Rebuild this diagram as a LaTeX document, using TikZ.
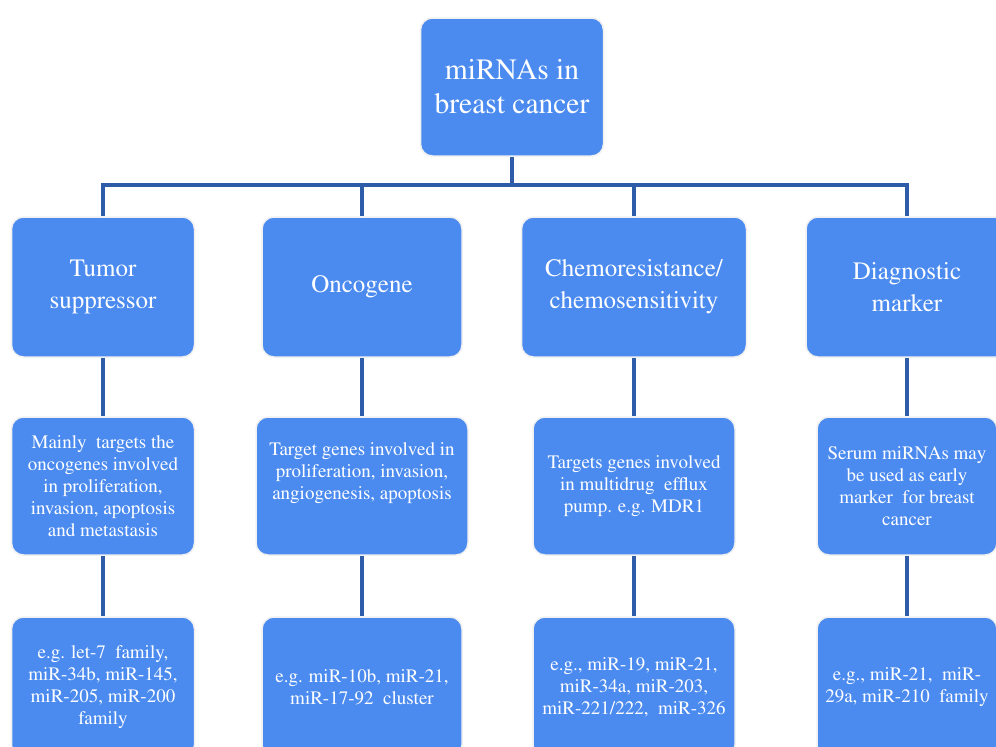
\documentclass[tikz,border=0pt]{standalone}
\usepackage[T1]{fontenc}
\usepackage{mathptmx}
\usepackage{xcolor}
\usetikzlibrary{positioning}
\definecolor{boxblue}{RGB}{75,139,240}
\definecolor{linkblue}{RGB}{46,92,168}
\tikzset{
  box/.style = {draw = gray!12, line width = 1.5pt, fill = boxblue, rounded corners = 12pt,
    text = white, align = center, inner sep = 0pt},
  head/.style = {font = \fontsize{25}{32}\selectfont},
  small/.style = {font = \fontsize{19}{22}\selectfont},
  link/.style = {draw = linkblue, line width = 4pt},
}

\begin{document}
\begin{tikzpicture}[x = 1pt, y = -1pt]
\fill[white] (0,0) rectangle (996,747);
\useasboundingbox (0,0) rectangle (996,747);
\clip (0,0) rectangle (996,747);
\node[box, minimum width = 183, minimum height = 138, font = \fontsize{29.5}{34}\selectfont] (top) at (512,87) {miRNAs in\\breast cancer};
\coordinate (bus) at (512,185);

\node[box, head, minimum width = 183, minimum height = 140] (tum) at (103,287) {Tumor\\suppressor};
\node[box, head, minimum width = 200, minimum height = 140] (onc) at (362,287) {Oncogene};
\node[box, head, minimum width = 225, minimum height = 140] (chemo) at (634,287) {Chemoresistance/\\chemosensitivity};
\node[box, head, minimum width = 202, minimum height = 140] (diag) at (907,287) {Diagnostic\\marker};

\node[box, small, minimum width = 183, minimum height = 138] (tum2) at (103,486) {Mainly\ \ targets the\\oncogenes involved\\in proliferation,\\invasion, apoptosis\\and metastasis};
\node[box, small, minimum width = 212, minimum height = 138] (onc2) at (362,486) {Target genes involved in\\proliferation, invasion,\\angiogenesis, apoptosis\\[8pt]};
\node[box, small, minimum width = 202, minimum height = 138] (chemo2) at (634,486) {Targets genes involved\\in multidrug\ \ efflux\\pump. e.g. MDR1};
\node[box, small, minimum width = 180, minimum height = 138] (diag2) at (907,486) {Serum miRNAs may\\be used as early\\marker\ \ for breast\\cancer};

\node[box, small, minimum width = 183, minimum height = 140] (tum3) at (103,687) {e.g. let-7\ \ family,\\miR-34b, miR-145,\\miR-205, miR-200\\family};
\node[box, small, minimum width = 200, minimum height = 140] (onc3) at (362,687) {e.g. miR-10b, miR-21,\\miR-17-92\ \ cluster};
\node[box, small, minimum width = 202, minimum height = 140] (chemo3) at (634,687) {e.g., miR-19, miR-21,\\miR-34a, miR-203,\\miR-221/222,\ \ miR-326};
\node[box, small, minimum width = 180, minimum height = 140] (diag3) at (907,687) {e.g., miR-21,\ \ miR-\\29a, miR-210\ \ family};

\draw[link] (top) -- (bus);
\draw[link] (tum) |- (bus) -| (diag);
\draw[link] (onc) |- (bus);
\draw[link] (chemo) |- (bus);
\draw[link] (tum) -- (tum2) -- (tum3);
\draw[link] (onc) -- (onc2) -- (onc3);
\draw[link] (chemo) -- (chemo2) -- (chemo3);
\draw[link] (diag) -- (diag2) -- (diag3);
\end{tikzpicture}
\end{document}
